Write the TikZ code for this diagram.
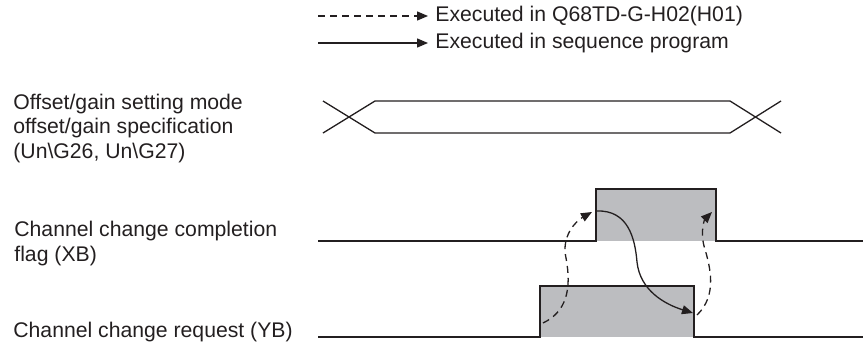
\documentclass[tikz,border=0pt]{standalone}
\usepackage{fontspec}
\setmainfont{Liberation Sans}
\usepackage{tikz}
\usetikzlibrary{positioning}
\usetikzlibrary{arrows.meta}
\definecolor{sigline}{HTML}{231F20}
\definecolor{sigfill}{HTML}{BCBDC0}
\tikzset{
  sig/.style={draw=sigline, line width=0.65pt},
  tip/.style={-{Triangle[length=5.5pt,width=4.5pt]}},
  modarrow/.style={sig, tip, dash pattern=on 3.5pt off 2.5pt},
  seqarrow/.style={sig, tip},
  lbl/.style={inner sep=0pt, text=sigline, align=left}
}

\begin{document}
\begin{tikzpicture}[x=0.5pt, y=-0.5pt, font=\fontsize{10.6}{12.25}\selectfont]
\useasboundingbox (0,0) rectangle (863,349);
% legend
\coordinate (mod0) at (318,16);
\coordinate (mod1) at (428,16);
\coordinate (seq0) at (318,43);
\coordinate (seq1) at (428,43);
\draw[modarrow] (mod0) -- (mod1);
\draw[seqarrow] (seq0) -- (seq1);
\node[lbl, right=3.5pt of mod1] (modtxt) {Executed in Q68TD-G-H02(H01)};
\node[lbl, right=3.5pt of seq1] (seqtxt) {Executed in sequence program};
% signal names (base = last line)
\node[lbl, anchor=base west] (ofs) at (13,158) {Offset/gain setting mode\\offset/gain specification\\(Un\textbackslash G26, Un\textbackslash G27)};
\node[lbl, anchor=base west] (xb) at (14,261) {Channel change completion\\flag (XB)};
\node[lbl, anchor=base west] (yb) at (13,337) {Channel change request (YB)};
% offset/gain specification
\draw[sig] (323,101) -- (375,133) -- (730,133) -- (781,101);
\draw[sig] (323,133) -- (375,101) -- (730,101) -- (781,133);
% XB
\fill[sigfill] (596,189) rectangle (716,241);
\draw[sig] (318,241) -- (596,241) -- (596,189) -- (716,189) -- (716,241) -- (863,241);
% YB
\fill[sigfill] (540,286) rectangle (694,337);
\draw[sig] (318,337) -- (540,337) -- (540,286) -- (694,286) -- (694,337) -- (863,337);
% handshake
\coordinate (ybon) at (543,323);
\coordinate (xbon) at (592,212);
\coordinate (xbset) at (597,211);
\coordinate (ybof) at (693,313);
\coordinate (ybdn) at (697,315);
\coordinate (xbof) at (712,212);
\draw[modarrow] (ybon) .. controls (566,312) and (572,290) .. (566,258)
  .. controls (561,236) and (576,221) .. (xbon);
\draw[seqarrow] (xbset) .. controls (628,210) and (635,238) .. (637,262)
  .. controls (640,290) and (664,304) .. (ybof);
\draw[modarrow] (ybdn) .. controls (718,295) and (710,266) .. (704,246)
  .. controls (700,230) and (705,219) .. (xbof);
\end{tikzpicture}
\end{document}
